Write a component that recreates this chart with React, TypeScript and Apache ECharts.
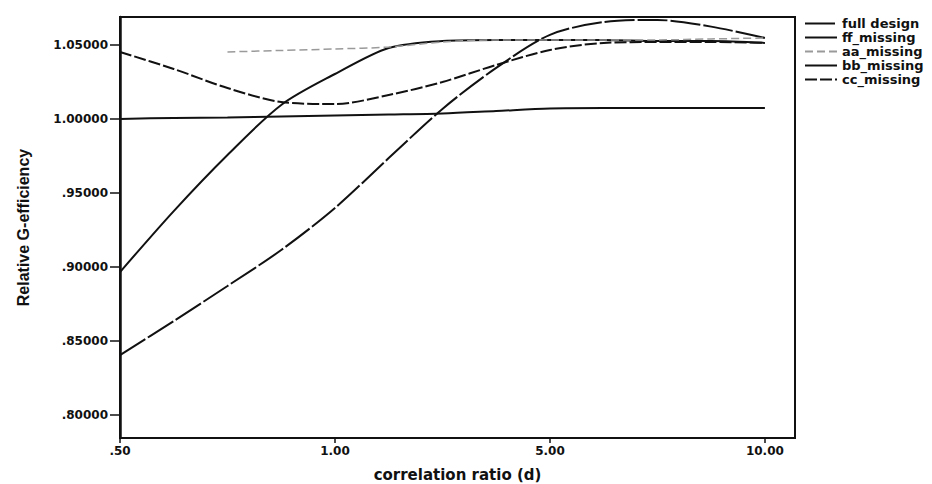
import React, { useEffect, useRef } from "react";
import * as echarts from "echarts";

// x axis: tick labels at evenly spaced positions
const tickLabels = [".50", "1.00", "5.00", "10.00"];
const tickPositions = [0, 1, 2, 3];
const samplePositions = [0, 0.25, 0.5, 0.75, 1, 1.25, 1.5, 1.75, 2, 2.25, 2.5, 2.75, 3];

const yTicks = [0.8, 0.85, 0.9, 0.95, 1.0, 1.05];

const seriesNames = ["full design", "ff_missing", "aa_missing", "bb_missing", "cc_missing"];

const fullDesign = [0.8405, 0.8635, 0.8872, 0.9115, 0.9399, 0.9736, 1.0068, 1.0345, 1.0568, 1.0655, 1.0669, 1.0624, 1.0547];
const ffMissing = [0.8966, 0.9378, 0.9757, 1.0095, 1.0304, 1.048, 1.0527, 1.0534, 1.0534, 1.0534, 1.0527, 1.0527, 1.0514];
const aaMissing = [null, null, 1.0453, 1.0463, 1.0473, 1.0486, 1.052, 1.0534, 1.0534, 1.0534, 1.0534, 1.0541, 1.0547];
const bbMissing = [1.0, 1.0007, 1.001, 1.0017, 1.0024, 1.003, 1.0037, 1.0054, 1.0071, 1.0074, 1.0074, 1.0074, 1.0074];
const ccMissing = [1.0453, 1.0338, 1.0209, 1.0115, 1.0101, 1.0162, 1.025, 1.0365, 1.0466, 1.0514, 1.052, 1.052, 1.0514];

const toPairs = (vals: (number | null)[]) =>
  samplePositions.map((x, i) => [x, vals[i]]);

export default function App() {
  const ref = useRef<HTMLDivElement>(null);

  useEffect(() => {
    if (!ref.current) return;
    const chart = echarts.init(ref.current, undefined, { renderer: "svg" });
    const font = "DejaVu Sans";
    const mk = (name: string, vals: (number | null)[], color: string, width: number, type: any) => ({
      name,
      type: "line",
      data: toPairs(vals),
      smooth: 0.3,
      symbol: "none",
      connectNulls: false,
      lineStyle: { color, width, type },
      itemStyle: { color },
    });
    chart.setOption({
      animation: false,
      backgroundColor: "#ffffff",
      grid: {
        left: 120,
        right: 137,
        top: 17,
        bottom: 46,
        outerBoundsMode: "none",
        show: true,
        borderColor: "#111",
        borderWidth: 2,
        backgroundColor: "transparent",
      },
      legend: {
        orient: "vertical",
        left: 799,
        top: 12,
        itemWidth: 32,
        itemHeight: 12,
        itemGap: 1,
        data: seriesNames,
        itemStyle: { opacity: 0 },
        textStyle: {
          fontFamily: font,
          fontWeight: "bold",
          fontSize: 13,
          lineHeight: 12,
          color: "#111",
        },
      },
      xAxis: {
        type: "value",
        min: 0,
        max: 3.14,
        name: "correlation ratio (d)",
        nameLocation: "middle",
        nameGap: 29,
        nameTextStyle: { fontFamily: font, fontWeight: "bold", fontSize: 15, color: "#111" },
        axisLine: { show: true, onZero: false, lineStyle: { color: "#111", width: 2 } },
        axisTick: { show: true, inside: false, length: 5, customValues: tickPositions, lineStyle: { color: "#111", width: 1.5 } },
        axisLabel: {
          customValues: tickPositions,
          margin: 7,
          fontFamily: font,
          fontWeight: "bold",
          fontSize: 12,
          color: "#111",
          formatter: (v: number) => tickLabels[Math.round(v)] ?? "",
        },
        splitLine: { show: false },
      },
      yAxis: {
        type: "value",
        min: 0.7845,
        max: 1.0689,
        name: "Relative G-efficiency",
        nameLocation: "middle",
        nameGap: 89,
        nameRotate: 90,
        nameTextStyle: {
          fontFamily: "Liberation Sans",
          fontWeight: "bold",
          fontSize: 16,
          color: "#111",
        },
        axisLine: { show: true, onZero: false, lineStyle: { color: "#111", width: 2.5 } },
        axisTick: { show: true, length: 10, customValues: yTicks, lineStyle: { color: "#111", width: 1.5 } },
        axisLabel: {
          customValues: yTicks,
          margin: 12,
          fontFamily: font,
          fontWeight: "bold",
          fontSize: 12,
          color: "#111",
          formatter: (v: number) => {
            const s = v.toFixed(5);
            return s.startsWith("0") ? s.slice(1) : s;
          },
        },
        splitLine: { show: false },
      },
      series: [
        mk(seriesNames[0], fullDesign, "#111", 2, [30, 3]),
        mk(seriesNames[1], ffMissing, "#111", 2, "solid"),
        mk(seriesNames[2], aaMissing, "#9a9a9a", 1.5, [8, 4]),
        mk(seriesNames[3], bbMissing, "#111", 2, "solid"),
        mk(seriesNames[4], ccMissing, "#111", 2, [12, 3]),
      ],
    });
    return () => chart.dispose();
  }, []);

  return (
    <div
      ref={ref}
      style={{ position: "fixed", left: 0, top: 0, width: 932, height: 484, background: "#fff" }}
    />
  );
}
